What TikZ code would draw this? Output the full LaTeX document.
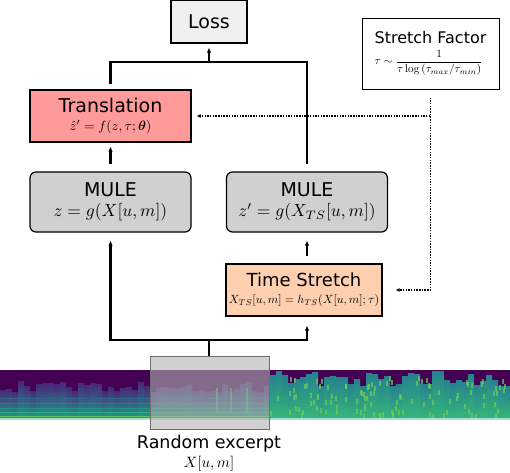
\documentclass[tikz,border=0pt]{standalone}
\usepackage{amsmath,amssymb}
\usepackage{graphicx}
\usepackage[no-math]{fontspec}
\newfontfamily\labelfont{DejaVu Sans}
\usepackage{xcolor}
\usepackage{tikz}
\usetikzlibrary{arrows.meta,calc,positioning}
\definecolor{lossfill}{RGB}{239,239,239}
\definecolor{transfill}{RGB}{255,154,154}
\definecolor{mulefill}{RGB}{208,208,208}
\definecolor{stretchfill}{RGB}{255,208,176}
\definecolor{excerptfill}{RGB}{176,176,176}
\definecolor{excerptdraw}{RGB}{110,110,110}
\definecolor{vir0}{HTML}{440154}
\definecolor{vir1}{HTML}{482878}
\definecolor{vir2}{HTML}{3E4989}
\definecolor{vir3}{HTML}{31688E}
\definecolor{vir4}{HTML}{26828E}
\definecolor{vir5}{HTML}{1F9E89}
\definecolor{vir6}{HTML}{35B779}
\definecolor{vir7}{HTML}{6ECE58}
\definecolor{vir8}{HTML}{B5DE2B}
\definecolor{specedge}{HTML}{A8E0D8}
\newcommand{\eqn}[2]{{\fontsize{10}{12}\selectfont\scalebox{#1}{$#2$}}}

\begin{document}
\begin{tikzpicture}[
  x=1pt, y=-1pt,
  box/.style={draw, line width=1.2pt, align=center, inner sep=2pt, font=\labelfont\fontsize{19}{22}\selectfont},
  mulebox/.style={box, rounded corners=6pt, fill=mulefill, minimum width=161, minimum height=60},
  wire/.style={line width=2.4pt},
  arr/.style={-{Latex[length=5pt, width=4.5pt]}, line width=2.4pt},
  dotarr/.style={-{Latex[length=4pt, width=4pt]}, line width=1.5pt, dash pattern=on 1.5pt off 1.2pt}
]
\useasboundingbox (0,0) rectangle (510,472);

% spectrogram strip
\fill[vir0] (0,370) rectangle (510,419);
\pgfmathsetseed{42}
\foreach \i in {0,...,84}{
  \pgfmathsetmacro{\xa}{6*\i}
  \ifnum\i<45
    \pgfmathsetmacro{\ytop}{393-12*rnd}
    \fill[top color=vir1, bottom color=vir5] (\xa,\ytop) rectangle ({\xa+6},419);
  \else
    \pgfmathsetmacro{\ytop}{371+16*rnd}
    \fill[top color=vir4, bottom color=vir6] (\xa,\ytop) rectangle ({\xa+6},419);
  \fi
}
\foreach \yy/\cc in {398/vir3, 403/vir4, 408/vir5, 412/vir6, 416/vir7}
  \draw[\cc, line width=1pt, opacity=0.8] (0,\yy) -- (270,\yy);
\foreach \k in {1,...,110}{
  \pgfmathsetmacro{\bx}{270+236*rnd}
  \pgfmathsetmacro{\by}{376+38*rnd}
  \fill[vir7, opacity=0.7] (\bx,\by) rectangle ++(2,5);
}
\foreach \sx in {216,230,246}
  \fill[vir6, opacity=0.7] (\sx,388) rectangle ++(2,25);
\fill[specedge] (0,417.5) rectangle (510,419.5);

% boxes
\node[box, fill=lossfill, minimum width=76, minimum height=43] (loss) at (209,21.5) {Loss};
\node[box, fill=white, line width=1pt, minimum width=137, minimum height=71, align=left, font=\labelfont\fontsize{16}{19}\selectfont] (stretch) at (430.5,53.5)
  {Stretch Factor\\[2pt]\eqn{1.12}{\tau \sim \dfrac{1}{\tau\log\left(\tau_{max}/\tau_{min}\right)}}};
\node[box, fill=transfill, minimum width=161, minimum height=52] (trans) at (110.5,116)
  {Translation\\[-4pt]\eqn{1.35}{\hat{z}' = f(z,\tau;\boldsymbol{\theta})}};
\node[mulebox] (mule1) at (110.5,202) {MULE\\[-2pt]\eqn{1.75}{z = g(X[u,m])}};
\node[mulebox] (mule2) at (307,202) {MULE\\[-2pt]\eqn{1.75}{z' = g(X_{TS}[u,m])}};
\node[box, fill=stretchfill, minimum width=156, minimum height=52, font=\labelfont\fontsize{18}{21}\selectfont] (ts) at (304,290)
  {Time Stretch\\[-4pt]\eqn{1.19}{X_{TS}[u,m] = h_{TS}(X[u,m];\tau)}};
\node[draw=excerptdraw, line width=1pt, fill=excerptfill, fill opacity=0.6, minimum width=119, minimum height=73] (excerpt) at (209.5,392.5) {};
\node[font=\labelfont\fontsize{17.5}{20}\selectfont] (rlabel) at (209,444) {Random excerpt};
\node (rmath) at (209,464) {\eqn{1.5}{X[u,m]}};

% connectors
\coordinate (jtop) at (209,62);
\coordinate (jbot) at (209,340);
\draw[wire, shorten <=5pt, shorten >=7pt] (trans.north) |- (jtop) -| (mule2.north);
\draw[arr, shorten >=4pt] (jtop) -- (loss.south);
\draw[arr, shorten <=7pt, shorten >=4pt] (mule1.north) -- (trans.south);
\draw[arr, shorten <=7pt, shorten >=8pt] (ts.north -| mule2.south) -- (mule2.south);
\draw[wire] (jbot) -- (jbot |- excerpt.north);
\draw[{Latex[length=5pt, width=4.5pt]}-{Latex[length=5pt, width=4.5pt]}, line width=2.4pt, shorten <=8pt, shorten >=9pt]
  (mule1.south) |- (jbot) -| (ts.south -| mule2.south);
\draw[dotarr, shorten <=8pt, shorten >=5pt] (stretch.south) |- (trans.east);
\draw[dotarr, shorten <=8pt, shorten >=13pt] (stretch.south) |- (ts.east);
\end{tikzpicture}
\end{document}
